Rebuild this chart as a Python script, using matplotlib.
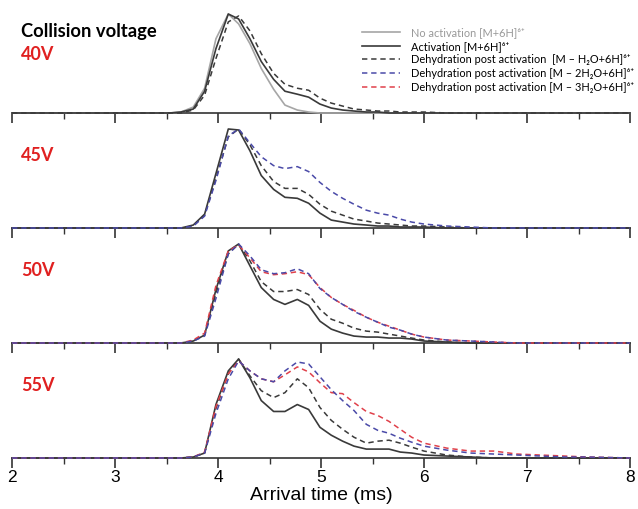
import matplotlib
matplotlib.use("Agg")
import matplotlib.pyplot as plt
from matplotlib.lines import Line2D
from matplotlib.ticker import MultipleLocator

# ---- data (normalised intensity vs arrival time) ----
time_ms = [2.0, 3.53, 3.64, 3.76, 3.87, 3.98, 4.10, 4.20, 4.31, 4.42, 4.54, 4.65,
           4.77, 4.88, 4.99, 5.10, 5.21, 5.32, 5.44, 5.55, 5.66, 5.77, 5.88, 6.00,
           6.22, 6.45, 6.68, 6.90, 7.13, 7.36, 7.58, 8.0]

voltages = ["40V", "45V", "50V", "55V"]

no_act_40 = [0, 0, 0.01, 0.06, 0.25, 0.75, 1.0, 0.90, 0.70, 0.45, 0.24, 0.08, 0.03, 0.01,
             0, 0, 0, 0, 0, 0, 0, 0, 0, 0, 0, 0, 0, 0, 0, 0, 0, 0]
act_40 = [0, 0, 0.01, 0.04, 0.22, 0.65, 1.0, 0.95, 0.75, 0.52, 0.34, 0.22, 0.19, 0.16,
          0.09, 0.05, 0.03, 0.02, 0.01, 0.01, 0, 0, 0, 0, 0, 0, 0, 0, 0, 0, 0, 0]
dh1_40 = [0, 0, 0, 0.03, 0.18, 0.55, 0.92, 0.98, 0.83, 0.60, 0.40, 0.29, 0.25, 0.23,
          0.15, 0.10, 0.07, 0.04, 0.03, 0.02, 0.02, 0.01, 0.01, 0.01, 0, 0, 0, 0, 0, 0, 0, 0]

act_45 = [0, 0, 0, 0.03, 0.14, 0.55, 1.0, 0.99, 0.78, 0.53, 0.39, 0.31, 0.30, 0.25,
          0.15, 0.08, 0.06, 0.04, 0.03, 0.02, 0.02, 0.01, 0.01, 0.01, 0, 0, 0, 0, 0, 0, 0, 0]
dh1_45 = [0, 0, 0, 0.02, 0.13, 0.50, 0.92, 1.0, 0.84, 0.63, 0.47, 0.40, 0.40, 0.34,
          0.24, 0.17, 0.13, 0.09, 0.07, 0.05, 0.04, 0.03, 0.02, 0.02, 0.01, 0, 0, 0, 0, 0, 0, 0]
dh2_45 = [0, 0, 0, 0.02, 0.12, 0.48, 0.93, 1.0, 0.86, 0.72, 0.63, 0.60, 0.62, 0.57,
          0.46, 0.37, 0.30, 0.24, 0.18, 0.15, 0.13, 0.09, 0.06, 0.04, 0.02, 0.01, 0, 0, 0, 0, 0, 0]

act_50 = [0, 0, 0, 0.02, 0.08, 0.54, 0.93, 1.0, 0.78, 0.56, 0.44, 0.39, 0.44, 0.38,
          0.22, 0.14, 0.10, 0.07, 0.06, 0.06, 0.05, 0.05, 0.04, 0.02, 0.01, 0, 0, 0, 0, 0, 0, 0]
dh1_50 = [0, 0, 0, 0.02, 0.08, 0.50, 0.90, 1.0, 0.83, 0.62, 0.52, 0.52, 0.54, 0.49,
          0.34, 0.24, 0.20, 0.15, 0.12, 0.11, 0.09, 0.07, 0.05, 0.03, 0.01, 0, 0, 0, 0, 0, 0, 0]
dh2_50 = [0, 0, 0, 0.02, 0.07, 0.45, 0.90, 1.0, 0.88, 0.74, 0.70, 0.71, 0.75, 0.70,
          0.55, 0.46, 0.39, 0.32, 0.26, 0.21, 0.16, 0.13, 0.09, 0.06, 0.03, 0.02, 0.01, 0, 0, 0, 0, 0]
dh3_50 = [0, 0, 0, 0.03, 0.10, 0.58, 0.93, 0.99, 0.86, 0.72, 0.69, 0.70, 0.72, 0.69,
          0.56, 0.46, 0.39, 0.33, 0.26, 0.21, 0.17, 0.13, 0.09, 0.06, 0.03, 0.02, 0.01, 0, 0, 0, 0, 0]

act_55 = [0, 0, 0, 0.01, 0.05, 0.54, 0.88, 1.0, 0.81, 0.58, 0.47, 0.47, 0.54, 0.49,
          0.31, 0.23, 0.17, 0.12, 0.09, 0.09, 0.09, 0.06, 0.05, 0.03, 0.02, 0.01, 0, 0, 0, 0, 0, 0]
dh1_55 = [0, 0, 0, 0.01, 0.05, 0.50, 0.85, 1.0, 0.83, 0.68, 0.61, 0.66, 0.80, 0.71,
          0.51, 0.38, 0.29, 0.21, 0.15, 0.17, 0.18, 0.15, 0.11, 0.07, 0.03, 0.01, 0, 0, 0, 0, 0, 0]
dh2_55 = [0, 0, 0, 0.01, 0.05, 0.45, 0.80, 0.98, 0.88, 0.80, 0.77, 0.88, 0.97, 0.95,
          0.82, 0.69, 0.58, 0.48, 0.34, 0.28, 0.25, 0.20, 0.16, 0.12, 0.08, 0.05, 0.04, 0.03,
          0.02, 0.01, 0.01, 0]
dh3_55 = [0, 0, 0, 0.01, 0.06, 0.52, 0.85, 0.98, 0.88, 0.80, 0.77, 0.84, 0.92, 0.87,
          0.76, 0.66, 0.65, 0.56, 0.47, 0.43, 0.37, 0.29, 0.21, 0.15, 0.10, 0.07, 0.07, 0.04,
          0.03, 0.02, 0.01, 0]

panels = [
    {"no_act": no_act_40, "act": act_40, "dh1": dh1_40},
    {"act": act_45, "dh1": dh1_45, "dh2": dh2_45},
    {"act": act_50, "dh1": dh1_50, "dh2": dh2_50, "dh3": dh3_50},
    {"act": act_55, "dh1": dh1_55, "dh2": dh2_55, "dh3": dh3_55},
]

legend_labels = [
    "No activation [M+6H]\u2076\u207A",
    "Activation [M+6H]\u2076\u207A",
    "Dehydration post activation  [M \u2013 H\u2082O+6H]\u2076\u207A",
    "Dehydration post activation [M \u2013 2H\u2082O+6H]\u2076\u207A",
    "Dehydration post activation [M \u2013 3H\u2082O+6H]\u2076\u207A",
]

# ---- styles ----
styles = {
    "no_act": dict(color="#a6a6a6", lw=1.2, ls="-"),
    "act": dict(color="#3a3a3a", lw=1.2, ls="-"),
    "dh1": dict(color="#3a3a3a", lw=1.1, ls=(0, (3.5, 2.5))),
    "dh2": dict(color="#4a4aa8", lw=1.1, ls=(0, (3.5, 2.5))),
    "dh3": dict(color="#e0404a", lw=1.1, ls=(0, (3.5, 2.5))),
}
draw_order = ["no_act", "act", "dh1", "dh3", "dh2"]

plt.rcParams["font.family"] = ["Liberation Sans", "DejaVu Sans"]

W, H = 638, 509
fig = plt.figure(figsize=(W / 100, H / 100), dpi=100)

left = 12 / W
right = 630 / W
baselines = [113, 228, 343, 458]
panel_h = 115

axes = []
for i, base in enumerate(baselines):
    bottom = 1 - base / H
    ax = fig.add_axes([left, bottom, right - left, panel_h / H])
    axes.append(ax)
    data = panels[i]
    for key in draw_order:
        if key in data:
            ax.plot(time_ms, data[key], clip_on=False, **styles[key])
    ax.set_xlim(2, 8)
    ax.set_ylim(0, 115 / 99)
    for s in ["top", "left", "right"]:
        ax.spines[s].set_visible(False)
    ax.spines["bottom"].set_color("#333333")
    ax.spines["bottom"].set_linewidth(1.2)
    ax.spines["bottom"].set_zorder(1)
    ax.set_yticks([])
    ax.xaxis.set_major_locator(MultipleLocator(1))
    ax.xaxis.set_minor_locator(MultipleLocator(0.5))
    ax.tick_params(axis="x", which="major", direction="out", length=7, width=1.2,
                   color="#333333", labelsize=12.5, pad=2)
    ax.tick_params(axis="x", which="minor", direction="out", length=4, width=1.0,
                   color="#333333")
    if i < 3:
        ax.tick_params(axis="x", labelbottom=False)
    ax.patch.set_alpha(0)

axes[-1].set_xlabel("Arrival time (ms)", fontsize=14, labelpad=1)

label_font = ["Lato", "DejaVu Sans"]
fig.text(21 / W, 1 - 37 / H, "Collision voltage", fontsize=13.2, fontweight="bold",
         family=label_font, color="black", va="baseline")
label_y = [60, 161, 276, 391]
for v, yy in zip(voltages, label_y):
    fig.text(21 / W, 1 - yy / H, v, fontsize=13, fontweight="bold",
             family=label_font, color="#e02020", va="baseline")

handles = [Line2D([], [], **styles[k]) for k in ["no_act", "act", "dh1", "dh2", "dh3"]]
leg = fig.legend(handles, legend_labels, loc="upper left",
                 bbox_to_anchor=(362 / W, 1 - 27 / H), frameon=False,
                 handlelength=3.5, handletextpad=1.0,
                 labelspacing=0.24, borderaxespad=0, borderpad=0,
                 prop={"family": label_font, "size": 7.9})
for j, t in enumerate(leg.get_texts()):
    t.set_color("#999999" if j == 0 else "black")

fig.savefig("out.png", dpi=100)
